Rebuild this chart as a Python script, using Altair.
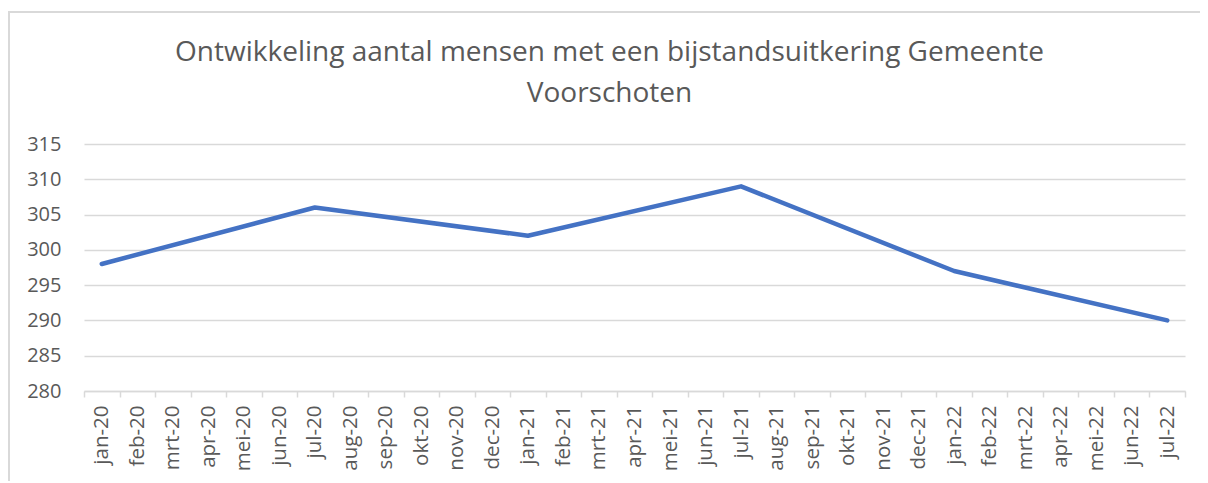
import altair as alt
import pandas as pd

months = ["jan-20", "feb-20", "mrt-20", "apr-20", "mei-20", "jun-20", "jul-20", "aug-20",
          "sep-20", "okt-20", "nov-20", "dec-20", "jan-21", "feb-21", "mrt-21", "apr-21",
          "mei-21", "jun-21", "jul-21", "aug-21", "sep-21", "okt-21", "nov-21", "dec-21",
          "jan-22", "feb-22", "mrt-22", "apr-22", "mei-22", "jun-22", "jul-22"]
obs_months = ["jan-20", "jul-20", "jan-21", "jul-21", "jan-22", "jul-22"]
obs_values = [298, 306, 302, 309, 297, 290]
y_ticks = [280, 285, 290, 295, 300, 305, 310, 315]

df = pd.DataFrame({"maand": obs_months, "aantal": obs_values})

GREY = "#595959"
GRID = "#d9d9d9"
FONT = "Open Sans"

x_enc = alt.X("maand:O", sort=months,
              scale=alt.Scale(type="band", domain=months, paddingInner=0, paddingOuter=0),
              axis=alt.Axis(title=None, labelAngle=-90, labelFontSize=20.5, labelColor=GREY,
                            labelFont=FONT, labelPadding=8, tickBand="extent",
                            domainColor=GRID, domainWidth=1.5, tickColor=GRID, tickWidth=1.5,
                            tickSize=6, grid=False, labelOverlap=False))
y_enc = alt.Y("aantal:Q",
              scale=alt.Scale(domain=[280, 315], nice=False, zero=False),
              axis=alt.Axis(title=None, values=y_ticks, labelFontSize=20, labelColor=GREY,
                            labelFont=FONT, labelPadding=23, ticks=False, domain=False,
                            grid=True, gridColor=GRID, gridWidth=1.5))

line = alt.Chart(df).mark_line(color="#4472C4", strokeWidth=4.5, strokeCap="round",
                               strokeJoin="round").encode(x=x_enc, y=y_enc)

border_top = alt.Chart(df).mark_rule(color=GRID, strokeWidth=1.5).encode(
    x=alt.value(-76), x2=alt.value(1130), y=alt.value(-132))
border_left = alt.Chart(df).mark_rule(color=GRID, strokeWidth=1.5).encode(
    x=alt.value(-75), y=alt.value(-132), y2=alt.value(340))

chart = alt.layer(border_top, border_left, line).properties(
    width=1101, height=247,
    autosize=alt.AutoSizeParams(type="none"),
    padding={"left": 76, "top": 136, "right": 15, "bottom": 90},
    title=alt.TitleParams(
        text=["Ontwikkeling aantal mensen met een bijstandsuitkering Gemeente", "Voorschoten"],
        font=FONT, fontSize=28, fontWeight="normal", color=GREY, lineHeight=41,
        anchor="middle", dx=-25, offset=0, dy=97),
).configure_view(stroke=None)

chart.save("out.html", embed_options={"renderer": "svg", "actions": False})
